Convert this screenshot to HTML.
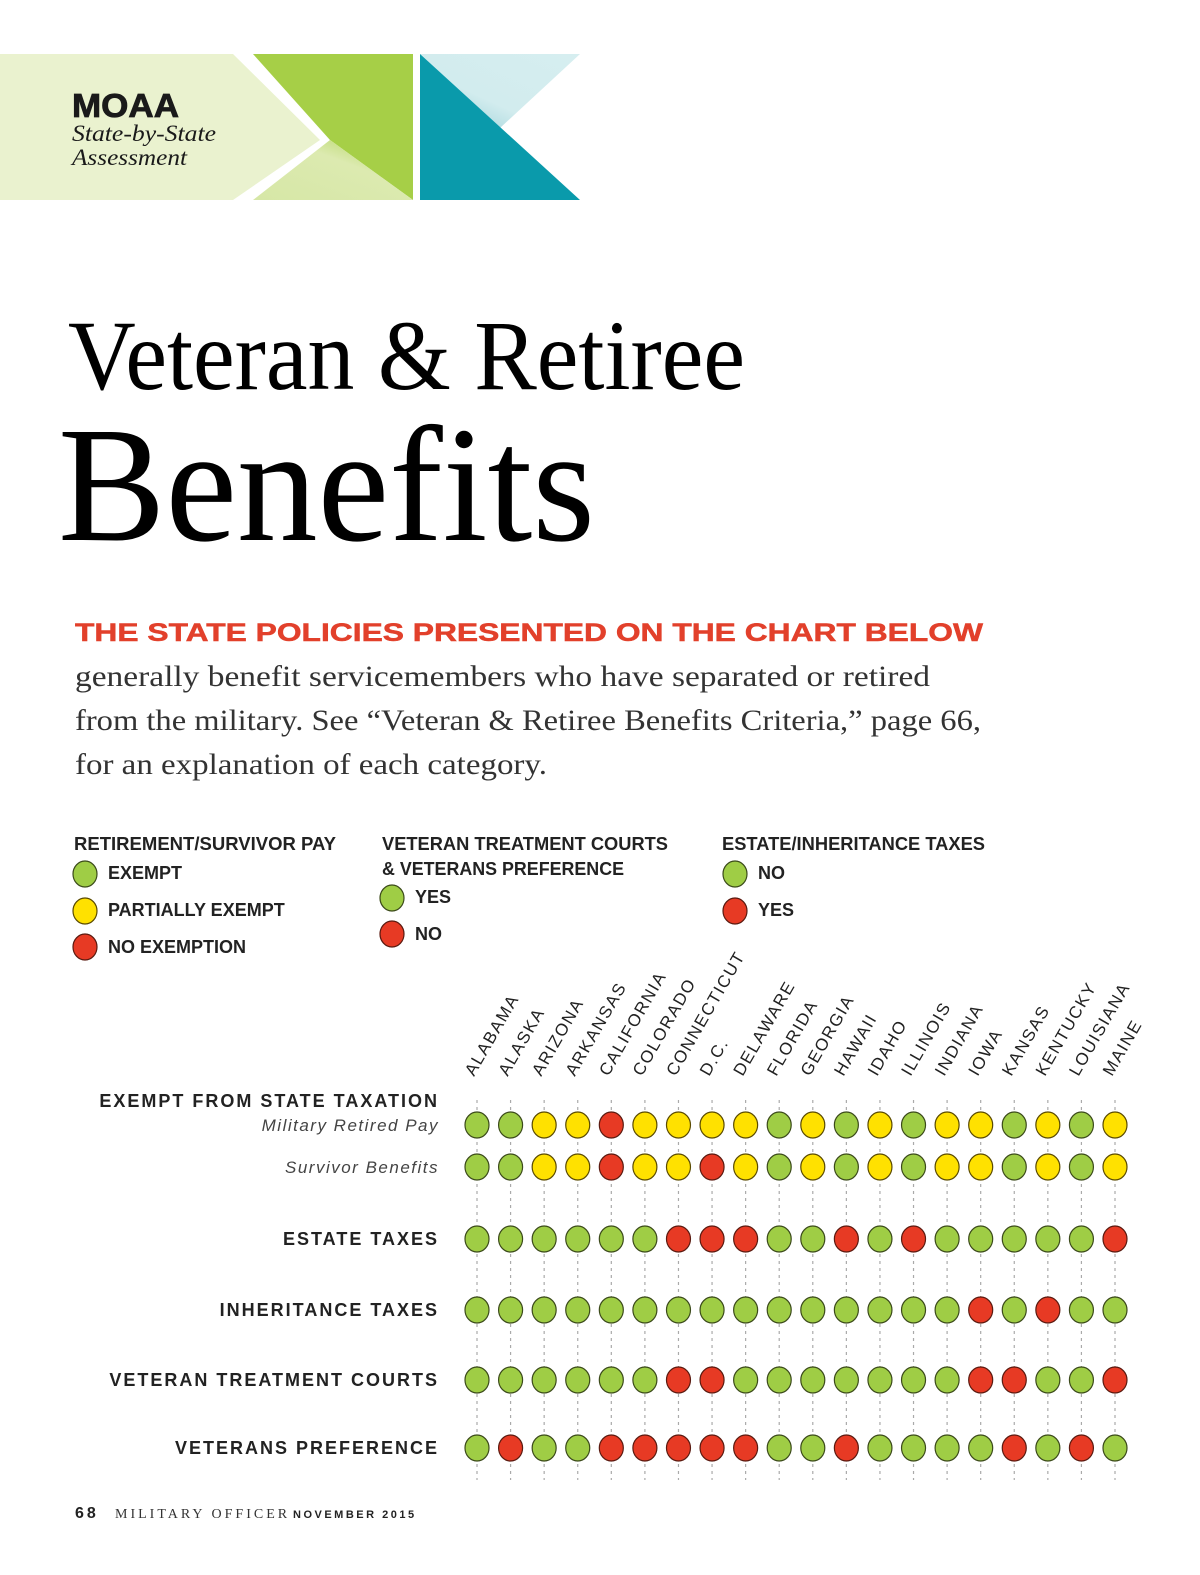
<!DOCTYPE html>
<html><head><meta charset="utf-8"><style>
html,body{margin:0;padding:0;background:#fff;}
svg{display:block;}
</style></head><body>
<svg id="page" width="1200" height="1575" viewBox="0 0 1200 1575" xmlns="http://www.w3.org/2000/svg">
<defs>
<linearGradient id="lg1" x1="0" y1="1" x2="1" y2="0"><stop offset="0" stop-color="#d6e7a6"/><stop offset="0.6" stop-color="#dceab0"/><stop offset="1" stop-color="#a8d04a"/></linearGradient>
<linearGradient id="tg1" x1="0" y1="1" x2="1" y2="0"><stop offset="0" stop-color="#8fcbd3"/><stop offset="0.4" stop-color="#d2ecee"/><stop offset="1" stop-color="#d6eef0"/></linearGradient>
</defs>
<g>
<polygon points="0,54 233,54 320,140 233,200 0,200" fill="#eaf2cf"/>
<polygon points="253,54 413,54 413,200 330,140" fill="#a6cf47"/>
<polygon points="253,200 330,140 413,200" fill="url(#lg1)"/>
<polygon points="420,54 580,54 500,128" fill="url(#tg1)"/>
<polygon points="420,54 580,200 420,200" fill="#0a9aab"/>
<text x="72" y="117" font-family="Liberation Sans, sans-serif" font-weight="bold" font-size="33" textLength="107" lengthAdjust="spacingAndGlyphs" fill="#1a1a1a" stroke="#1a1a1a" stroke-width="0.8">MOAA</text>
<text x="72" y="141" font-family="Liberation Serif, serif" font-style="italic" font-size="23" textLength="144" lengthAdjust="spacingAndGlyphs" fill="#1a1a1a">State-by-State</text>
<text x="72" y="165" font-family="Liberation Serif, serif" font-style="italic" font-size="23" textLength="115" lengthAdjust="spacingAndGlyphs" fill="#1a1a1a">Assessment</text>
</g>
<text x="68" y="389" font-family="Liberation Serif, serif" font-size="100" textLength="677" lengthAdjust="spacingAndGlyphs" fill="#000">Veteran &amp; Retiree</text>
<text x="58" y="540" font-family="Liberation Serif, serif" font-size="165" textLength="537" lengthAdjust="spacingAndGlyphs" fill="#000">Benefits</text>
<text x="75" y="641" font-family="Liberation Sans, sans-serif" font-weight="bold" font-size="25" textLength="908" lengthAdjust="spacingAndGlyphs" fill="#e2402b" stroke="#e2402b" stroke-width="0.5">THE STATE POLICIES PRESENTED ON THE CHART BELOW</text>
<g font-family="Liberation Serif, serif" font-size="30" fill="#333">
<text x="75" y="686" textLength="855" lengthAdjust="spacingAndGlyphs">generally benefit servicemembers who have separated or retired</text>
<text x="75" y="730" textLength="906" lengthAdjust="spacingAndGlyphs">from the military. See “Veteran &amp; Retiree Benefits Criteria,” page 66,</text>
<text x="75" y="774" textLength="472" lengthAdjust="spacingAndGlyphs">for an explanation of each category.</text>
</g>
<g font-family="Liberation Sans, sans-serif" font-weight="bold" font-size="18" fill="#222">
<text x="74" y="850" textLength="262" lengthAdjust="spacingAndGlyphs">RETIREMENT/SURVIVOR PAY</text>
<g><ellipse cx="85" cy="874" rx="12" ry="13" fill="#9fcd45" stroke="#3b4a1a" stroke-width="1.2"/><text x="108" y="879">EXEMPT</text></g>
<g><ellipse cx="85" cy="911" rx="12" ry="13" fill="#ffe100" stroke="#5a4a00" stroke-width="1.2"/><text x="108" y="916">PARTIALLY EXEMPT</text></g>
<g><ellipse cx="85" cy="947" rx="12" ry="13" fill="#e73a24" stroke="#5a1a10" stroke-width="1.2"/><text x="108" y="953">NO EXEMPTION</text></g>
<text x="382" y="850" textLength="286" lengthAdjust="spacingAndGlyphs">VETERAN TREATMENT COURTS</text>
<text x="382" y="875" textLength="242" lengthAdjust="spacingAndGlyphs">&amp; VETERANS PREFERENCE</text>
<g><ellipse cx="392" cy="898" rx="12" ry="13" fill="#9fcd45" stroke="#3b4a1a" stroke-width="1.2"/><text x="415" y="903">YES</text></g>
<g><ellipse cx="392" cy="934" rx="12" ry="13" fill="#e73a24" stroke="#5a1a10" stroke-width="1.2"/><text x="415" y="940">NO</text></g>
<text x="722" y="850" textLength="263" lengthAdjust="spacingAndGlyphs">ESTATE/INHERITANCE TAXES</text>
<g><ellipse cx="735" cy="874" rx="12" ry="13" fill="#9fcd45" stroke="#3b4a1a" stroke-width="1.2"/><text x="758" y="879">NO</text></g>
<g><ellipse cx="735" cy="911" rx="12" ry="13" fill="#e73a24" stroke="#5a1a10" stroke-width="1.2"/><text x="758" y="916">YES</text></g>
</g>
<g id="rowlabels" font-family="Liberation Sans, sans-serif" fill="#222" text-anchor="end">
<text x="439" y="1107" font-size="18" font-weight="bold" letter-spacing="2">EXEMPT FROM STATE TAXATION</text>
</g>
<g id="chart"></g>
<g font-size="15">
<text x="75" y="1518" font-family="Liberation Sans, sans-serif" font-weight="bold" font-size="16" letter-spacing="3" fill="#222">68</text>
<text x="115" y="1518" font-family="Liberation Serif, serif" font-size="14" letter-spacing="3" fill="#333">MILITARY OFFICER</text>
<text x="293" y="1518" font-family="Liberation Sans, sans-serif" font-weight="bold" font-size="11" letter-spacing="2.5" fill="#222">NOVEMBER 2015</text>
</g>
</svg>
<script>
const states = ["ALABAMA","ALASKA","ARIZONA","ARKANSAS","CALIFORNIA","COLORADO","CONNECTICUT","D.C.","DELAWARE","FLORIDA","GEORGIA","HAWAII","IDAHO","ILLINOIS","INDIANA","IOWA","KANSAS","KENTUCKY","LOUISIANA","MAINE"];
const rowNames = ["Military Retired Pay","Survivor Benefits","ESTATE TAXES","INHERITANCE TAXES","VETERAN TREATMENT COURTS","VETERANS PREFERENCE"];
// G = green, Y = yellow, R = red
const militaryRetiredPay = ["G","G","Y","Y","R","Y","Y","Y","Y","G","Y","G","Y","G","Y","Y","G","Y","G","Y"];
const survivorBenefits  = ["G","G","Y","Y","R","Y","Y","R","Y","G","Y","G","Y","G","Y","Y","G","Y","G","Y"];
const estateTaxes       = ["G","G","G","G","G","G","R","R","R","G","G","R","G","R","G","G","G","G","G","R"];
const inheritanceTaxes  = ["G","G","G","G","G","G","G","G","G","G","G","G","G","G","G","R","G","R","G","G"];
const treatmentCourts   = ["G","G","G","G","G","G","R","R","G","G","G","G","G","G","G","R","R","G","G","R"];
const veteransPref      = ["G","R","G","G","R","R","R","R","R","G","G","R","G","G","G","G","R","G","R","G"];
const series = [militaryRetiredPay,survivorBenefits,estateTaxes,inheritanceTaxes,treatmentCourts,veteransPref];

const NS="http://www.w3.org/2000/svg";
const chart=document.getElementById('chart');
const rl=document.getElementById('rowlabels');
const rowY=[1125,1167,1239,1310,1380,1448];
function xPos(i){return 477+i*(1115-477)/(states.length-1);}
function yPos(r){return rowY[r];}
const fills={G:"#9fcd45",Y:"#ffe100",R:"#e73a24"};
const strokes={G:"#3b4a1a",Y:"#5a4a00",R:"#5a1a10"};
states.forEach((s,i)=>{
  const x=xPos(i);
  const ln=document.createElementNS(NS,'line');
  ln.setAttribute('x1',x);ln.setAttribute('x2',x);ln.setAttribute('y1',1100);ln.setAttribute('y2',1480);
  ln.setAttribute('stroke','#aaa');ln.setAttribute('stroke-dasharray','3 4');ln.setAttribute('stroke-width','1.2');
  
  
  chart.appendChild(ln);
  const t=document.createElementNS(NS,'text');
  t.setAttribute('x',0);t.setAttribute('y',0);
  t.setAttribute('transform','translate('+(x-3)+',1077) rotate(-60)');
  t.setAttribute('font-family','Liberation Sans, sans-serif');t.setAttribute('font-size','17');
  t.setAttribute('letter-spacing','1.5');t.setAttribute('fill','#222');
  t.textContent=s;
  
  
  chart.appendChild(t);
});
rowNames.forEach((n,r)=>{
  const t=document.createElementNS(NS,'text');
  t.setAttribute('x',439);
  if(r<2){t.setAttribute('font-style','italic');t.setAttribute('font-size','17');t.setAttribute('letter-spacing','1.5');t.setAttribute('fill','#444');t.setAttribute('y',yPos(r)+6);}
  else{t.setAttribute('font-size','18');t.setAttribute('letter-spacing','2');t.setAttribute('font-weight','bold');t.setAttribute('y',yPos(r)+6);}
  t.textContent=n;
  
  
  rl.appendChild(t);
});
series.forEach((row,r)=>{
  row.forEach((v,i)=>{
    const e=document.createElementNS(NS,'ellipse');
    e.setAttribute('cx',xPos(i));e.setAttribute('cy',yPos(r));
    e.setAttribute('rx',12);e.setAttribute('ry',13);
    e.setAttribute('fill',fills[v]);e.setAttribute('stroke',strokes[v]);e.setAttribute('stroke-width','1.2');
    
    
    chart.appendChild(e);
  });
});
</script>
</body></html>
